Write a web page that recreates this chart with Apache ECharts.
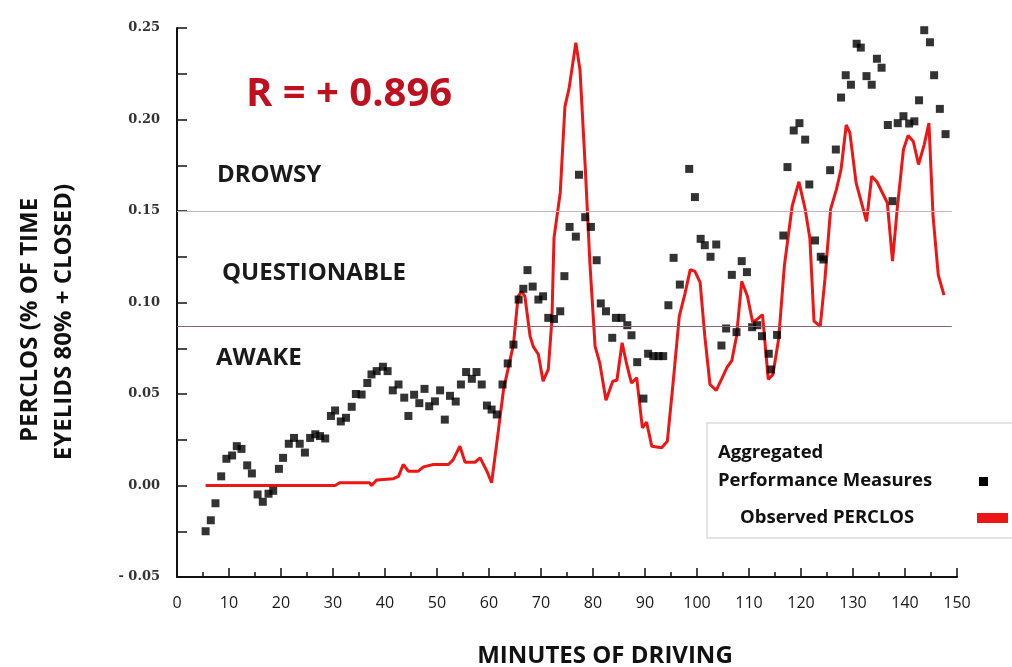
<!DOCTYPE html>
<html>
<head>
<meta charset="utf-8">
<script src="https://cdn.jsdelivr.net/npm/echarts@6/dist/echarts.min.js"></script>
<style>
html,body{margin:0;padding:0;background:#fff;}
#chart{width:1012px;height:667px;}
</style>
</head>
<body>
<div id="chart"></div>
<script>
// ---- Data (minutes of driving, PERCLOS value) ----
const performanceMinutes = [5.5,6.5,7.4,8.5,9.5,10.6,11.5,12.4,13.5,14.4,15.5,16.5,17.6,18.5,19.6,20.4,21.5,22.5,23.6,24.6,25.6,26.6,27.5,28.5,29.6,30.4,31.5,32.5,33.6,34.4,35.5,36.6,37.4,38.4,39.6,40.5,41.5,42.6,43.7,44.5,45.6,46.6,47.6,48.5,49.6,50.6,51.5,52.5,53.6,54.6,55.6,56.7,57.6,58.6,59.6,60.5,61.5,62.6,63.6,64.7,65.7,66.6,67.4,68.4,69.5,70.4,71.4,72.5,73.7,74.5,75.5,76.7,77.3,78.5,79.6,80.7,81.5,82.5,83.7,84.4,85.5,86.6,87.4,88.5,89.7,90.6,91.6,92.6,93.5,94.5,95.5,96.7,98.5,99.6,100.7,101.5,102.6,103.7,104.7,105.6,106.7,107.6,108.6,109.6,110.6,111.6,112.5,113.8,114.2,115.4,116.6,117.4,118.6,119.7,120.8,121.6,122.7,123.8,124.3,125.6,126.7,127.7,128.6,129.6,130.7,131.5,132.6,133.6,134.6,135.5,136.7,137.6,138.6,139.7,140.8,141.8,142.7,143.7,144.8,145.6,146.7,147.8];
const performanceValues = [-0.025,-0.019,-0.0097,0.005,0.0146,0.0164,0.0215,0.020,0.011,0.0066,-0.0049,-0.0089,-0.0045,-0.0029,0.0091,0.0151,0.0228,0.026,0.0228,0.018,0.026,0.028,0.027,0.0257,0.038,0.041,0.035,0.037,0.043,0.050,0.0497,0.056,0.0607,0.0625,0.0649,0.0625,0.052,0.0552,0.048,0.038,0.0496,0.045,0.0528,0.0433,0.046,0.052,0.036,0.049,0.0459,0.0552,0.062,0.0583,0.062,0.0552,0.0437,0.0415,0.0388,0.0552,0.0667,0.077,0.1016,0.1075,0.1177,0.1087,0.1016,0.1034,0.0916,0.091,0.0952,0.1144,0.1413,0.136,0.1698,0.1466,0.1413,0.1231,0.0995,0.0952,0.0807,0.0916,0.0916,0.0876,0.0821,0.0674,0.0475,0.072,0.0707,0.0707,0.0707,0.0985,0.1244,0.1098,0.173,0.1576,0.1348,0.1313,0.125,0.1317,0.0765,0.0858,0.1151,0.0838,0.1226,0.1166,0.0865,0.0876,0.0816,0.072,0.0634,0.0823,0.1366,0.174,0.194,0.198,0.189,0.1645,0.1339,0.125,0.1235,0.1723,0.1836,0.212,0.2242,0.219,0.2414,0.2393,0.2237,0.219,0.2332,0.2283,0.197,0.1554,0.198,0.2018,0.1978,0.199,0.2105,0.2488,0.2422,0.2242,0.2058,0.192];

const perclosMinutes = [5.5,30.4,31.3,37,37.4,38.4,41.6,42.6,43.5,44.5,46.4,47.4,49.3,52.2,53.1,54.4,55.4,57.3,58.3,59.6,60.5,61.5,62.8,64.7,65.6,66.3,66.9,67.9,68.5,69.5,70.4,71.4,72.1,72.5,73.7,74.6,75.4,76.7,77.5,78.5,79.4,80.4,81.3,82.5,83.8,84.6,85.6,86.5,87.4,88.4,89.5,90.3,91.3,93.2,94.3,95.4,96.6,97.7,98.7,99.6,100.6,101.5,102.5,103.7,104.7,105.8,106.7,107.6,108.6,109.7,110.7,111.5,112.6,113.7,114.6,115.7,116.8,118.3,119.6,120.8,121.7,122.5,123.7,124.6,125.7,126.8,127.7,128.7,129.4,130.6,132.6,133.6,134.6,136.6,137.6,138.5,139.7,140.6,141.6,142.6,143.7,144.6,145.4,146.4,147.5];
const perclosValues = [0,0,0.0015,0.0015,0,0.003,0.0037,0.005,0.0115,0.0078,0.0078,0.0102,0.0115,0.0115,0.014,0.0215,0.0127,0.0127,0.0151,0.0078,0.0015,0.0233,0.0525,0.077,0.1034,0.106,0.1034,0.0816,0.076,0.0716,0.057,0.0634,0.0907,0.1353,0.16,0.207,0.217,0.242,0.227,0.1745,0.1217,0.076,0.067,0.0466,0.057,0.0575,0.078,0.066,0.056,0.0589,0.0315,0.0346,0.0215,0.0206,0.0242,0.056,0.0925,0.105,0.118,0.117,0.111,0.0816,0.0552,0.052,0.058,0.0647,0.0683,0.0816,0.1116,0.1034,0.0892,0.0907,0.0934,0.058,0.0607,0.080,0.12,0.1526,0.166,0.151,0.1353,0.0898,0.087,0.1126,0.151,0.1617,0.1727,0.197,0.1927,0.1654,0.1444,0.169,0.166,0.1545,0.1226,0.151,0.1836,0.1913,0.188,0.1754,0.1863,0.198,0.147,0.115,0.104];

const thresholdDrowsy = 0.15;
const thresholdAwake = 0.087;
const thresholdEndMinute = 149;

const seriesNames = ['Aggregated Performance Measures', 'Observed PERCLOS'];
const xTitle = 'MINUTES OF DRIVING';
const yTitleLines = ['PERCLOS (% OF TIME', 'EYELIDS 80% + CLOSED)'];
const zoneLabels = ['DROWSY', 'QUESTIONABLE', 'AWAKE'];
const correlationText = 'R = + 0.896';

// ---- Build ----
const scatterData = performanceMinutes.map((m, i) => [m, performanceValues[i]]);
const lineData = perclosMinutes.map((m, i) => [m, perclosValues[i]]);

const chart = echarts.init(document.getElementById('chart'), null, {renderer: 'canvas'});
const titleFont = '"Open Sans", sans-serif';

chart.setOption({
  backgroundColor: '#ffffff',
  animation: false,
  grid: {left: 177, right: 55, top: 28, bottom: 90},
  xAxis: {
    type: 'value', min: 0, max: 150, interval: 10,
    axisLine: {show: true, onZero: false, lineStyle: {color: '#111', width: 2}},
    axisTick: {show: true, inside: true, length: 9, lineStyle: {color: '#111', width: 1.5}},
    minorTick: {show: true, splitNumber: 2, length: 5, lineStyle: {color: '#111', width: 1.5}},
    splitLine: {show: false},
    axisLabel: {color: '#1a1a1a', fontFamily: titleFont, fontSize: 16, margin: 18}
  },
  yAxis: {
    type: 'value', min: -0.05, max: 0.25, interval: 0.05,
    axisLine: {show: true, lineStyle: {color: '#111', width: 2}},
    axisTick: {show: true, inside: true, length: 10, lineStyle: {color: '#111', width: 1.5}},
    minorTick: {show: true, splitNumber: 2, length: 10, lineStyle: {color: '#111', width: 1.5}},
    splitLine: {show: false},
    axisLabel: {
      color: '#333', fontFamily: '"DejaVu Serif", serif', fontWeight: 'bold', fontSize: 13, margin: 17,
      formatter: v => v < 0 ? '- ' + Math.abs(v).toFixed(2) : v.toFixed(2)
    }
  },
  series: [
    {
      name: seriesNames[1], type: 'line', data: lineData, showSymbol: false, symbol: 'none',
      lineStyle: {color: '#ee1515', width: 3}, z: 2,
      markLine: {
        silent: true, symbol: 'none', label: {show: false},
        data: [
          [{coord: [0, thresholdDrowsy], lineStyle: {color: '#c4b4bc', width: 1, type: 'solid'}}, {coord: [thresholdEndMinute, thresholdDrowsy]}],
          [{coord: [0, thresholdAwake], lineStyle: {color: '#8a6474', width: 1, type: 'solid'}}, {coord: [thresholdEndMinute, thresholdAwake]}]
        ]
      }
    },
    {
      name: seriesNames[0], type: 'scatter', data: scatterData, symbol: 'rect', symbolSize: 8,
      itemStyle: {color: '#000'}, z: 3
    }
  ],
  graphic: [
    {type: 'text', x: 246, y: 95, style: {text: correlationText, fill: '#bf1020', font: 'bold 40px ' + titleFont, verticalAlign: 'middle'}},
    {type: 'text', x: 217, y: 175, style: {text: zoneLabels[0], fill: '#1a1a1a', font: 'bold 24px ' + titleFont, verticalAlign: 'middle'}},
    {type: 'text', x: 222, y: 273, style: {text: zoneLabels[1], fill: '#1a1a1a', font: 'bold 24px ' + titleFont, verticalAlign: 'middle'}},
    {type: 'text', x: 216, y: 358, style: {text: zoneLabels[2], fill: '#1a1a1a', font: 'bold 24px ' + titleFont, verticalAlign: 'middle'}},
    {type: 'text', x: 605, y: 656, style: {text: xTitle, fill: '#111', font: 'bold 24px ' + titleFont, align: 'center', verticalAlign: 'middle'}},
    {type: 'text', x: 30, y: 320, rotation: Math.PI / 2, style: {text: yTitleLines[0], fill: '#111', font: 'bold 24px ' + titleFont, align: 'center', verticalAlign: 'middle'}},
    {type: 'text', x: 64, y: 322, rotation: Math.PI / 2, style: {text: yTitleLines[1], fill: '#111', font: 'bold 24px ' + titleFont, align: 'center', verticalAlign: 'middle'}},
    // legend box
    {type: 'rect', shape: {x: 707, y: 423, width: 320, height: 115}, style: {fill: '#fff', stroke: '#dcdcdc', lineWidth: 1.5}, z: 10},
    {type: 'text', x: 718, y: 453, z: 11, style: {text: 'Aggregated', fill: '#111', font: 'bold 18.5px ' + titleFont, verticalAlign: 'middle'}},
    {type: 'text', x: 718, y: 481, z: 11, style: {text: 'Performance Measures', fill: '#111', font: 'bold 18.5px ' + titleFont, verticalAlign: 'middle'}},
    {type: 'rect', shape: {x: 979, y: 477, width: 9, height: 9}, style: {fill: '#000'}, z: 11},
    {type: 'text', x: 740, y: 518, z: 11, style: {text: seriesNames[1], fill: '#111', font: 'bold 18.5px ' + titleFont, verticalAlign: 'middle'}},
    {type: 'rect', shape: {x: 977, y: 513, width: 31, height: 10}, style: {fill: '#ee1515'}, z: 11}
  ]
});
</script>
</body>
</html>
